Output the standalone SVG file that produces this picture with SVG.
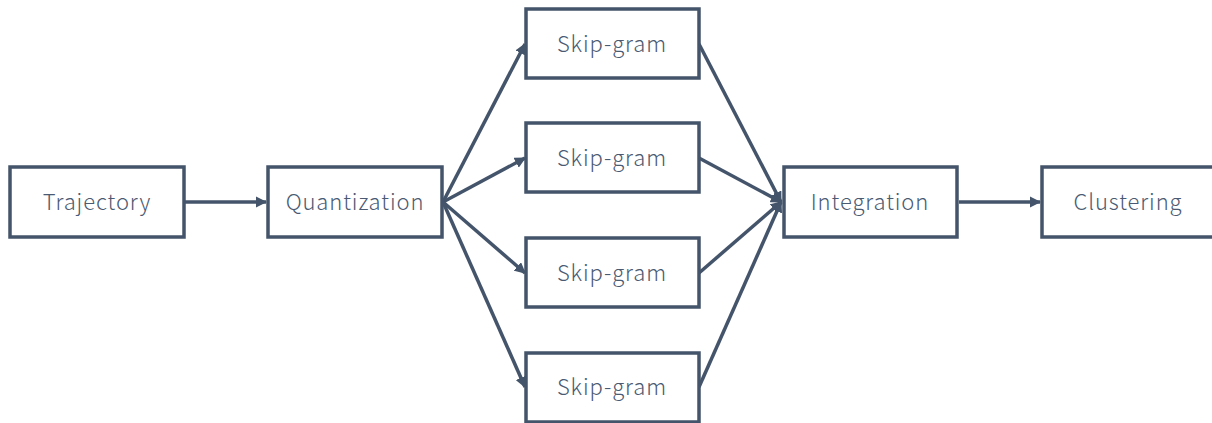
<svg xmlns="http://www.w3.org/2000/svg" width="1212" height="423" viewBox="0 0 1212 423">
  <style>
    .box { fill: #ffffff; stroke: #44546A; stroke-width: 3.5; }
    .lbl { font-family: "Noto Sans CJK JP", "Noto Sans", sans-serif; font-size: 22px; font-weight: 300; fill: #4A5A72; text-anchor: middle; dominant-baseline: central; letter-spacing: 0.9px; }
    .edge { stroke: #44546A; stroke-width: 3.5; fill: none; marker-end: url(#arrow); }
  </style>
  <defs>
    <marker id="arrow" viewBox="0 0 10 10" refX="9" refY="5" markerWidth="3.2" markerHeight="3.2" markerUnits="strokeWidth" orient="auto">
      <path d="M0,0 L10,5 L0,10 z" fill="#44546A"/>
    </marker>
  </defs>
  <rect width="1212" height="423" fill="#ffffff"/>

  <g id="connectors">
    <line class="edge" x1="185" y1="202" x2="266" y2="202"/>
    <line class="edge" x1="443" y1="202" x2="525" y2="44"/>
    <line class="edge" x1="443" y1="202" x2="525" y2="158"/>
    <line class="edge" x1="443" y1="202" x2="525" y2="273"/>
    <line class="edge" x1="443" y1="202" x2="525" y2="387"/>
    <line class="edge" x1="699" y1="44" x2="781" y2="202"/>
    <line class="edge" x1="699" y1="158" x2="781" y2="202"/>
    <line class="edge" x1="699" y1="273" x2="781" y2="202"/>
    <line class="edge" x1="699" y1="387" x2="781" y2="202"/>
    <line class="edge" x1="959" y1="202" x2="1040" y2="202"/>
  </g>

  <g id="trajectory">
    <rect class="box" x="10" y="167" width="174" height="70"/>
    <text class="lbl" x="97" y="200">Trajectory</text>
  </g>
  <g id="quantization">
    <rect class="box" x="268" y="167" width="174" height="70"/>
    <text class="lbl" x="355" y="200">Quantization</text>
  </g>
  <g id="skipgram-1">
    <rect class="box" x="526" y="9" width="173" height="69"/>
    <text class="lbl" x="612" y="42">Skip-gram</text>
  </g>
  <g id="skipgram-2">
    <rect class="box" x="526" y="123" width="173" height="69"/>
    <text class="lbl" x="612" y="156">Skip-gram</text>
  </g>
  <g id="skipgram-3">
    <rect class="box" x="526" y="238" width="173" height="69"/>
    <text class="lbl" x="612" y="271">Skip-gram</text>
  </g>
  <g id="skipgram-4">
    <rect class="box" x="526" y="353" width="173" height="69"/>
    <text class="lbl" x="612" y="385">Skip-gram</text>
  </g>
  <g id="integration">
    <rect class="box" x="784" y="167" width="173" height="70"/>
    <text class="lbl" x="870" y="200">Integration</text>
  </g>
  <g id="clustering">
    <rect class="box" x="1042" y="167" width="174" height="70"/>
    <text class="lbl" x="1128" y="200">Clustering</text>
  </g>
</svg>
